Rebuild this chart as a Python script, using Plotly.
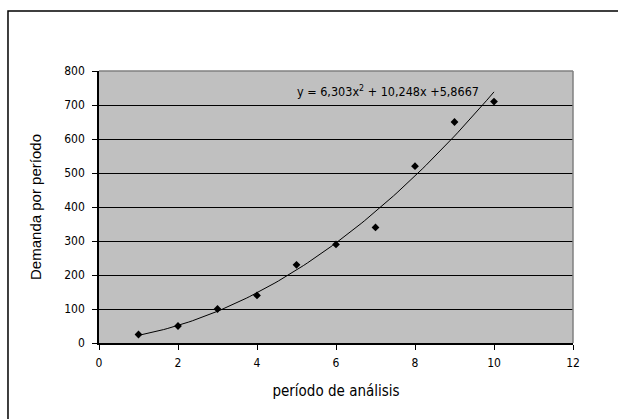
import numpy as np
import plotly.graph_objects as go

periods = [1, 2, 3, 4, 5, 6, 7, 8, 9, 10]
demand = [25, 50, 100, 140, 230, 290, 340, 520, 650, 710]
trend_coeffs = [6.303, 10.248, 5.8667]
trend_label = "y = 6,303x<sup>2</sup> + 10,248x +5,8667"
x_ticks = [0, 2, 4, 6, 8, 10, 12]
y_ticks = [0, 100, 200, 300, 400, 500, 600, 700, 800]

xt = np.linspace(min(periods), max(periods), 100)
yt = np.polyval(trend_coeffs, xt)

fig = go.Figure()
fig.add_trace(go.Scatter(x=xt, y=yt, mode="lines",
                         line=dict(color="black", width=1), showlegend=False, hoverinfo="skip"))
fig.add_trace(go.Scatter(x=periods, y=demand, mode="markers",
                         marker=dict(symbol="diamond", size=6, color="black"),
                         showlegend=False))

tickfont = dict(family="DejaVu Sans Condensed, Arial Narrow, sans-serif", size=12, color="black")
fig.update_layout(
    width=618, height=419,
    margin=dict(l=99, r=45, t=71, b=76),
    paper_bgcolor="white", plot_bgcolor="#c0c0c0",
    xaxis=dict(range=[0, 12], tickvals=x_ticks, showgrid=False, zeroline=False,
               showline=True, linecolor="black", linewidth=1.5,
               ticks="outside", ticklen=5, tickcolor="black", tickfont=tickfont,
               ticklabelstandoff=3,
               title=dict(text="período de análisis", standoff=16,
                          font=dict(family="DejaVu Sans Condensed, sans-serif", size=15, color="black"))),
    yaxis=dict(range=[0, 800], tickvals=y_ticks, showgrid=True, gridcolor="black", gridwidth=1,
               zeroline=False, showline=True, linecolor="black", linewidth=1.5,
               ticks="outside", ticklen=5, tickcolor="black", tickfont=tickfont,
               ticklabelstandoff=5,
               title=dict(text="Demanda por período", standoff=19,
                          font=dict(family="Liberation Sans, Arial, sans-serif", size=15, color="black"))),
)

# gray plot-area border on top and right
fig.add_shape(type="line", xref="paper", yref="paper", x0=0, x1=1, y0=1, y1=1,
              line=dict(color="#808080", width=1.5), layer="above")
fig.add_shape(type="line", xref="paper", yref="paper", x0=1, x1=1, y0=0, y1=1,
              line=dict(color="#808080", width=1.5), layer="above")
# outer chart frame
fig.add_shape(type="rect", xref="paper", yref="paper",
              x0=-0.192, x1=1.12, y0=-0.32, y1=1.2206,
              line=dict(color="black", width=1.5), layer="above")

fig.add_annotation(text=trend_label, xref="paper", yref="paper",
                   x=(388 - 99) / 474, y=(343 - 101) / 272, yanchor="bottom", showarrow=False,
                   font=dict(family="DejaVu Sans Condensed, Arial Narrow, sans-serif", size=12.5, color="black"))

fig.write_html("out.html")
